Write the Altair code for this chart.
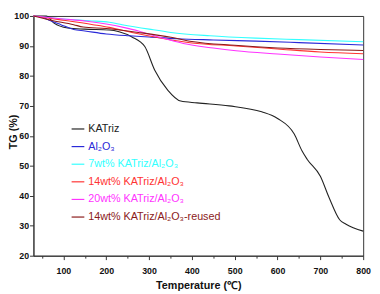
import altair as alt
import pandas as pd

series_names = [
    "KATriz",
    "Al₂O₃",
    "7wt% KATriz/Al₂O₃",
    "14wt% KATriz/Al₂O₃",
    "20wt% KATriz/Al₂O₃",
    "14wt% KATriz/Al₂O₃-reused",
]
series_colors = ["#222222", "#2a2ad8", "#33ffff", "#ff3333", "#ff33ff", "#8b1a1a"]

katriz_t = [30, 60, 78, 110, 150, 207, 230, 260, 290, 313, 344, 374, 412, 487, 563, 600, 639, 657, 669, 700, 720, 745, 760, 800]
katriz_v = [100, 100, 97.6, 96.0, 95.6, 95.3, 94.7, 93.0, 89.8, 82.0, 75.2, 71.6, 71.0, 70.0, 68.0, 65.8, 60.6, 55.0, 52.2, 46.5, 39.5, 32.0, 30.5, 28.2]

al2o3_t = [30, 48, 70, 94, 124, 150, 200, 253, 300, 366, 450, 550, 650, 800]
al2o3_v = [100, 99.7, 98.4, 97.1, 95.5, 95.0, 94.0, 93.4, 93.0, 92.4, 92.0, 91.6, 91.1, 90.3]

w7_t = [30, 100, 160, 207, 237, 300, 351, 442, 550, 650, 800]
w7_v = [100, 99.0, 98.4, 97.9, 97.1, 95.6, 94.5, 93.4, 92.6, 92.1, 91.4]

w14_t = [30, 94, 169, 207, 260, 336, 400, 503, 600, 700, 800]
w14_v = [100, 98.7, 97.1, 96.2, 94.5, 92.4, 91.0, 90.0, 89.0, 88.0, 87.4]

w20_t = [30, 100, 150, 200, 240, 275, 298, 340, 380, 450, 503, 600, 700, 800]
w20_v = [100, 99.0, 98.3, 97.3, 96.2, 95.0, 94.0, 92.3, 90.8, 89.3, 88.4, 87.3, 86.3, 85.5]

reused_t = [30, 71, 124, 146, 200, 275, 351, 400, 500, 600, 700, 800]
reused_v = [100, 98.6, 97.1, 96.3, 95.8, 94.5, 92.9, 91.5, 90.2, 89.3, 88.8, 88.5]

x_ticks = list(range(50, 801, 50))
y_ticks = list(range(20, 101, 10))

all_t = [katriz_t, al2o3_t, w7_t, w14_t, w20_t, reused_t]
all_v = [katriz_v, al2o3_v, w7_v, w14_v, w20_v, reused_v]

rows = []
for name, ts, vs in zip(series_names, all_t, all_v):
    for t, v in zip(ts, vs):
        rows.append({"series": name, "T": t, "TG": v})
df = pd.DataFrame(rows)

FONT = "Liberation Sans"

chart = alt.Chart(df).mark_line(strokeWidth=1.1, interpolate="monotone").encode(
    x=alt.X(
        "T:Q",
        scale=alt.Scale(domain=[30, 800], nice=False, zero=False),
        axis=alt.Axis(
            title="Temperature (℃)",
            values=x_ticks,
            labelExpr="datum.value % 100 == 0 ? datum.label : ''",
            tickSize={"condition": {"test": "datum.value % 100 == 0", "value": 4}, "value": 2.5},
            labelFlush=False,
            labelOverlap=False,
            labelPadding=7,
            titlePadding=5,
            grid=False,
        ),
    ),
    y=alt.Y(
        "TG:Q",
        scale=alt.Scale(domain=[20, 100], nice=False, zero=False),
        axis=alt.Axis(
            title="TG (%)",
            values=y_ticks,
            tickSize=4,
            labelPadding=1,
            grid=False,
            titleX=-15,
            titleY=118,
        ),
    ),
    color=alt.Color(
        "series:N",
        scale=alt.Scale(domain=series_names, range=series_colors),
        sort=series_names,
        legend=alt.Legend(
            title=None,
            orient="none",
            legendX=38,
            legendY=108,
            symbolType="stroke",
            symbolSize=169,
            symbolStrokeWidth=1.2,
            labelFont=FONT,
            labelFontSize=11,
            labelOffset=3,
            rowPadding=5.0,
            padding=0,
            labelLimit=300,
            labelColor=alt.ExprRef("scale('color', datum.value)"),
        ),
    ),
).properties(
    width=337,
    height=245,
    autosize=alt.AutoSizeParams(type="none"),
    padding={"left": 26, "top": 5, "right": 9, "bottom": 36},
).configure_view(
    stroke="#333333", strokeWidth=1
).configure_axis(
    domainColor="#333333",
    tickColor="#333333",
    labelFont=FONT,
    labelFontSize=9,
    labelFontWeight="bold",
    labelColor="#111111",
    titleFont=FONT,
    titleFontSize=11,
    titleFontWeight="bold",
    titleColor="#111111",
)

chart.save("out.html", embed_options={"renderer": "svg", "actions": False})
